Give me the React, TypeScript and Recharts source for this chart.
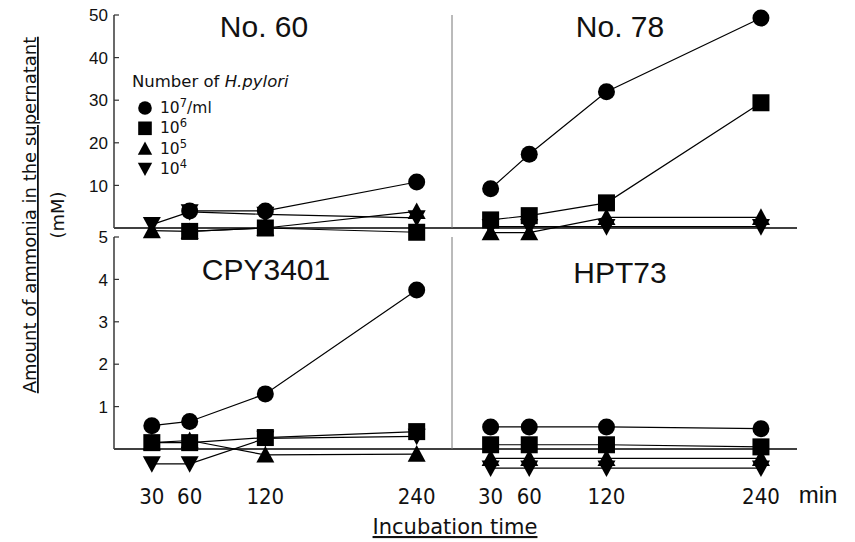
import { LineChart, Line, XAxis, YAxis, ReferenceLine } from "recharts";

// incubation time (min)
const times = [30, 60, 120, 240];

// ammonia (mM) per strain, one array per inoculum (10^7, 10^6, 10^5, 10^4 /ml)
// null = no visible marker at that time
const no60_e7 = [null, 4.0, 4.0, 10.8];
const no60_e6 = [null, -0.8, 0.0, -1.0];
const no60_e5 = [-0.6, -0.8, 0.0, 3.9];
const no60_e4 = [0.8, 3.8, 3.2, 2.4];

const no78_e7 = [9.2, 17.3, 32.0, 49.3];
const no78_e6 = [1.9, 2.9, 5.9, 29.4];
const no78_e5 = [-1.1, -1.1, 2.5, 2.5];
const no78_e4 = [0.3, 0.3, 0.3, 0.3];

const cpy_e7 = [0.55, 0.65, 1.3, 3.75];
const cpy_e6 = [0.15, 0.15, 0.27, 0.41];
const cpy_e5 = [0.15, 0.2, -0.14, -0.12];
const cpy_e4 = [-0.35, -0.35, 0.25, 0.3];

const hpt_e7 = [0.52, 0.52, 0.52, 0.48];
const hpt_e6 = [0.1, 0.1, 0.1, 0.05];
const hpt_e5 = [-0.22, -0.22, -0.22, -0.22];
const hpt_e4 = [-0.45, -0.45, -0.45, -0.45];

const topTicks = [10, 20, 30, 40, 50];
const bottomTicks = [1, 2, 3, 4, 5];

const series = [
  { key: "e7", shape: "circle", exp: "7", unit: "/ml" },
  { key: "e6", shape: "square", exp: "6", unit: "" },
  { key: "e5", shape: "up", exp: "5", unit: "" },
  { key: "e4", shape: "down", exp: "4", unit: "" },
];

const FONT = "'Liberation Sans', Arial, sans-serif";
const WIDE = "'DejaVu Sans', sans-serif";
const NARROW = "'Liberation Sans Narrow', 'DejaVu Sans Condensed', 'Liberation Sans', sans-serif";

function rows(e7: (number | null)[], e6: (number | null)[], e5: number[], e4: number[]) {
  return times.map((t, i) => ({ t, e7: e7[i], e6: e6[i], e5: e5[i], e4: e4[i] }));
}

function Marker({ shape, cx, cy, s = 1 }: { shape: string; cx: number; cy: number; s?: number }) {
  if (shape === "circle") return <circle cx={cx} cy={cy} r={8.5 * s} fill="#000" />;
  if (shape === "square")
    return <rect x={cx - 8.5 * s} y={cy - 8.5 * s} width={17 * s} height={17 * s} fill="#000" />;
  const h = 9 * s;
  const w = 9 * s;
  const pts =
    shape === "up"
      ? `${cx},${cy - h} ${cx - w},${cy + h * 0.85} ${cx + w},${cy + h * 0.85}`
      : `${cx},${cy + h} ${cx - w},${cy - h * 0.85} ${cx + w},${cy - h * 0.85}`;
  return <polygon points={pts} fill="#000" />;
}

const dotFor = (shape: string) => (p: any) => {
  if (p.cx == null || p.cy == null || p.value == null) return <g key={`${p.dataKey}-${p.index}`} />;
  return <Marker key={`${p.dataKey}-${p.index}`} shape={shape} cx={p.cx} cy={p.cy} />;
};

const YTick = (p: any) => (
  <g>
    <line x1={p.x} x2={p.x + 5} y1={p.y} y2={p.y} stroke="#333" strokeWidth={1.2} />
    <text x={p.x - 6} y={p.y} dy="0.36em" textAnchor="end" fontSize={17} fontFamily={FONT} fill="#111">
      {p.payload.value}
    </text>
  </g>
);

const XTick = (p: any) => (
  <text x={p.x} y={p.y + 13} textAnchor="middle" fontSize={22} fontFamily={NARROW} fill="#111">
    {p.payload.value}
  </text>
);

interface PanelProps {
  data: ReturnType<typeof rows>;
  col: "left" | "right";
  row: "top" | "bottom";
}

function Panel({ data, col, row }: PanelProps) {
  const isLeft = col === "left";
  const isTop = row === "top";
  // axis width/height of 1px is counted inside these margins
  const margin = {
    left: isLeft ? 113 : 451,
    right: isLeft ? 403 : 58,
    top: isTop ? 15 : 237,
    bottom: isTop ? 303.35 : 49.6,
  };
  const yMax = isTop ? 50 : 5;
  return (
    <div style={{ position: "absolute", left: 0, top: 0 }}>
      <LineChart width={855} height={542} data={data} margin={margin}>
        <XAxis
          dataKey="t"
          type="number"
          domain={[0, 268]}
          ticks={times}
          hide={isTop}
          height={1}
          axisLine={false}
          tickLine={false}
          tickSize={0}
          tickMargin={0}
          tick={<XTick />}
          interval={0}
        />
        <YAxis
          type="number"
          domain={isTop ? [-2.5, 50] : [-1, 5]}
          ticks={isTop ? topTicks : bottomTicks}
          tick={isLeft ? <YTick /> : false}
          width={1}
          axisLine={false}
          tickLine={false}
          tickSize={0}
          tickMargin={0}
          interval={0}
        />
        <ReferenceLine y={0} stroke="#000" strokeWidth={1.5} />
        <ReferenceLine
          segment={[
            { x: 0, y: 0 },
            { x: 0, y: yMax },
          ]}
          stroke={isLeft ? "#444" : "#777"}
          strokeWidth={isLeft ? 1.6 : 1}
        />
        {series.map((s) => (
          <Line
            key={s.key}
            dataKey={s.key}
            stroke="#000"
            strokeWidth={1.2}
            dot={dotFor(s.shape)}
            activeDot={false}
            isAnimationActive={false}
          />
        ))}
      </LineChart>
    </div>
  );
}

export default function App() {
  return (
    <div style={{ position: "absolute", left: 0, top: 0, width: 855, height: 542, background: "#fff" }}>
      <Panel data={rows(no60_e7, no60_e6, no60_e5, no60_e4)} col="left" row="top" />
      <Panel data={rows(no78_e7, no78_e6, no78_e5, no78_e4)} col="right" row="top" />
      <Panel data={rows(cpy_e7, cpy_e6, cpy_e5, cpy_e4)} col="left" row="bottom" />
      <Panel data={rows(hpt_e7, hpt_e6, hpt_e5, hpt_e4)} col="right" row="bottom" />
      <svg
        width={855}
        height={542}
        style={{ position: "absolute", left: 0, top: 0, pointerEvents: "none" }}
        fontFamily={FONT}
        fill="#111"
      >
        <text x={264} y={37} fontSize={30} textAnchor="middle">No. 60</text>
        <text x={620} y={37} fontSize={30} textAnchor="middle">No. 78</text>
        <text x={266} y={280} fontSize={30} textAnchor="middle">CPY3401</text>
        <text x={620} y={283} fontSize={30} textAnchor="middle">HPT73</text>

        <g fontFamily={WIDE}>
          <text x={132} y={87} fontSize={16.5}>
            Number of <tspan fontStyle="italic">H.pylori</tspan>
          </text>
          {series.map((s, i) => (
            <g key={s.key}>
              <Marker shape={s.shape} cx={145} cy={108 + i * 20.3} s={0.8} />
              <text x={160} y={113 + i * 20.3} fontSize={15.5}>
                10<tspan fontSize={11.5} dy={-6}>{s.exp}</tspan>
                {s.unit && <tspan dy={6}>{s.unit}</tspan>}
              </text>
            </g>
          ))}

          <text
            transform="translate(36,215) rotate(-90)"
            fontSize={18}
            textAnchor="middle"
            textDecoration="underline"
          >
            Amount of ammonia in the supernatant
          </text>
          <text transform="translate(64,215) rotate(-90)" fontSize={18} textAnchor="middle">
            (mM)
          </text>
          <text x={455} y={534} fontSize={21} textAnchor="middle" textDecoration="underline">
            Incubation time
          </text>
        </g>
        <text x={818} y={503} fontSize={24} textAnchor="middle">min</text>
      </svg>
    </div>
  );
}
